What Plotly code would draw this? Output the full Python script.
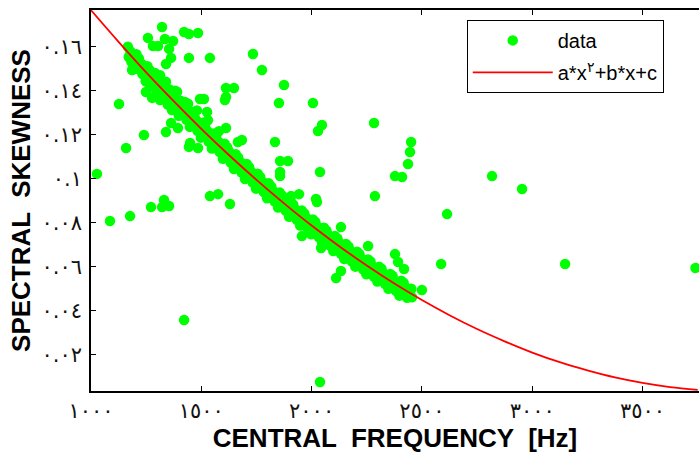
import plotly.graph_objects as go

# ---------------- data ----------------
# dense band of measurements along the fitted curve
band_freq = [
    1167, 1179, 1171, 1183,  1206, 1194, 1202, 1198,  1217, 1229, 1221, 1233,
    1256, 1244, 1252, 1248,  1267, 1279, 1271, 1283,  1306, 1294, 1302, 1298,
    1317, 1329, 1321, 1333,  1356, 1344, 1352, 1348,  1367, 1379, 1371, 1383,
    1406, 1394, 1402, 1398,  1417, 1429, 1421, 1433,  1456, 1444, 1452, 1448,
    1467, 1479, 1471, 1483,  1506, 1494, 1502, 1498,  1517, 1529, 1521, 1533,
    1556, 1544, 1552, 1548,  1567, 1579, 1571, 1583,  1606, 1594, 1602, 1598,
    1617, 1629, 1621, 1633,  1656, 1644, 1652, 1648,  1667, 1679, 1671, 1683,
    1706, 1694, 1702, 1698,  1717, 1729, 1721, 1733,  1756, 1744, 1752, 1748,
    1767, 1779, 1771, 1783,  1806, 1794, 1802, 1798,  1817, 1829, 1821, 1833,
    1856, 1844, 1852, 1848,  1867, 1879, 1871, 1883,  1906, 1894, 1902, 1898,
    1917, 1929, 1921, 1933,  1956, 1944, 1952, 1948,  1967, 1979, 1971, 1983,
    2006, 1994, 2002, 1998,  2017, 2029, 2021, 2033,  2056, 2044, 2052, 2048,
    2067, 2079, 2071, 2083,  2106, 2094, 2102, 2098,  2117, 2129, 2121, 2133,
    2156, 2144, 2152, 2148,  2167, 2179, 2171, 2183,  2206, 2194, 2202, 2198,
    2217, 2229, 2221, 2233,  2256, 2244, 2252, 2248,  2267, 2279, 2271, 2283,
    2306, 2294, 2302, 2298,  2317, 2329, 2321, 2333,  2356, 2344, 2352, 2348,
    2367, 2379, 2371, 2383,  2406, 2394, 2402, 2398,  2417, 2429, 2421, 2433,
    2452, 2444, 2455,
    1186, 1245, 1249, 1267, 1277, 1295, 1313, 1367, 1403, 1426, 1471, 1517,
    1562, 1621, 1653, 1290, 1340, 1390, 1440, 1480, 1530, 1580, 1313, 1381,
]
band_skew = [
    0.1600, 0.1578, 0.1553, 0.1531,  0.1566, 0.1543, 0.1518, 0.1498,  0.1546, 0.1522, 0.1498, 0.1476,
    0.1511, 0.1488, 0.1463, 0.1443,  0.1492, 0.1469, 0.1444, 0.1422,  0.1458, 0.1435, 0.1410, 0.1390,
    0.1439, 0.1416, 0.1391, 0.1369,  0.1405, 0.1382, 0.1357, 0.1337,  0.1387, 0.1364, 0.1340, 0.1318,
    0.1354, 0.1331, 0.1306, 0.1286,  0.1336, 0.1313, 0.1288, 0.1267,  0.1303, 0.1280, 0.1255, 0.1235,
    0.1286, 0.1263, 0.1238, 0.1217,  0.1254, 0.1231, 0.1206, 0.1186,  0.1237, 0.1214, 0.1190, 0.1168,
    0.1205, 0.1182, 0.1157, 0.1137,  0.1189, 0.1166, 0.1142, 0.1120,  0.1158, 0.1135, 0.1110, 0.1090,
    0.1142, 0.1119, 0.1095, 0.1073,  0.1111, 0.1088, 0.1063, 0.1043,  0.1096, 0.1073, 0.1049, 0.1027,
    0.1066, 0.1043, 0.1018, 0.0998,  0.1051, 0.1028, 0.1004, 0.0982,  0.1022, 0.0999, 0.0974, 0.0954,
    0.1007, 0.0984, 0.0960, 0.0938,  0.0978, 0.0955, 0.0930, 0.0910,  0.0964, 0.0941, 0.0917, 0.0895,
    0.0936, 0.0913, 0.0888, 0.0868,  0.0922, 0.0899, 0.0875, 0.0853,  0.0894, 0.0871, 0.0846, 0.0826,
    0.0881, 0.0858, 0.0834, 0.0812,  0.0854, 0.0831, 0.0806, 0.0786,  0.0841, 0.0818, 0.0794, 0.0772,
    0.0814, 0.0791, 0.0766, 0.0746,  0.0802, 0.0779, 0.0755, 0.0733,  0.0776, 0.0753, 0.0728, 0.0708,
    0.0764, 0.0741, 0.0717, 0.0695,  0.0738, 0.0715, 0.0690, 0.0670,  0.0727, 0.0704, 0.0680, 0.0658,
    0.0702, 0.0679, 0.0654, 0.0634,  0.0691, 0.0668, 0.0644, 0.0622,  0.0667, 0.0644, 0.0619, 0.0599,
    0.0656, 0.0633, 0.0609, 0.0587,  0.0632, 0.0609, 0.0584, 0.0564,  0.0622, 0.0599, 0.0575, 0.0553,
    0.0599, 0.0576, 0.0551, 0.0531,  0.0589, 0.0566, 0.0542, 0.0520,  0.0566, 0.0543, 0.0518, 0.0498,
    0.0557, 0.0534, 0.0510, 0.0488,  0.0535, 0.0512, 0.0487, 0.0467,  0.0526, 0.0503, 0.0479, 0.0457,
    0.0498, 0.0482, 0.0460,
    0.1494, 0.1471, 0.1394, 0.1421, 0.1367, 0.1403, 0.1357, 0.1312, 0.1289, 0.1348, 0.1275, 0.1230,
    0.1175, 0.1130, 0.1084, 0.1480, 0.1440, 0.1395, 0.1340, 0.1310, 0.1265, 0.1215, 0.1470, 0.1400,
]

# scattered measurements away from the band
outlier_freq = [
    1027, 1159, 1086, 1127, 1240, 1177, 1272, 1322, 1354, 1331,
    1630, 1422, 1322, 1258, 1422, 1444, 1485, 1335, 1372, 1281,
    1304, 1354, 1363, 1340, 1444, 1539, 1612, 1648, 1612, 1607,
    1494, 1512, 1526, 1363, 1394, 1340, 1449, 1444, 1485, 1612,
    1666, 1539, 1576, 1734, 1775, 1875, 1852, 2006, 2047, 2029,
    2283, 2451, 2446, 2437, 2378, 2410, 2287, 2038, 1834, 1684,
    1857, 1893, 1857, 1857, 1943, 1907, 2020, 2818, 2954, 2614,
    2587, 3149, 3740, 2500, 2111, 2133, 2378, 2392, 2419, 2256,
    2133, 2038, 2024, 1956, 2043,
]
outlier_skew = [
    0.1021, 0.1139, 0.0807, 0.1339, 0.1198, 0.0829, 0.0870, 0.0870, 0.0875, 0.0902,
    0.0884, 0.0356, 0.1690, 0.1640, 0.1667, 0.1658, 0.1662, 0.1635, 0.1626, 0.1603,
    0.1603, 0.1590, 0.1549, 0.1521, 0.1549, 0.1549, 0.1412, 0.1412, 0.1371, 0.1357,
    0.1362, 0.1362, 0.1303, 0.1253, 0.1230, 0.1212, 0.1162, 0.1144, 0.1139, 0.1230,
    0.1166, 0.0920, 0.0929, 0.1567, 0.1494, 0.1426, 0.1344, 0.1344, 0.1244, 0.1216,
    0.1253, 0.1166, 0.1121, 0.1066, 0.1011, 0.1007, 0.0920, 0.1030, 0.1166, 0.1175,
    0.1080, 0.1080, 0.1030, 0.1011, 0.0929, 0.0920, 0.0907, 0.1011, 0.0952, 0.0838,
    0.0611, 0.0611, 0.0593, 0.0493, 0.0547, 0.0579, 0.0656, 0.0620, 0.0588, 0.0693,
    0.0779, 0.0074, 0.0893, 0.0738, 0.0684,
]

# fitted quadratic curve
fit_freq = [1000, 1125, 1250, 1375, 1500, 1625, 1750, 1875, 2000, 2125, 2250, 2375,
            2500, 2625, 2750, 2875, 3000, 3125, 3250, 3375, 3500, 3625, 3750]
fit_skew = [0.1766, 0.1622, 0.1483, 0.1352, 0.1226, 0.1107, 0.0994, 0.0887, 0.0786,
            0.0692, 0.0604, 0.0522, 0.0447, 0.0378, 0.0315, 0.0259, 0.0208, 0.0164,
            0.0127, 0.0095, 0.0070, 0.0051, 0.0038]

x_tick_vals = [1000, 1500, 2000, 2500, 3000, 3500]
x_tick_text = ["١٠٠٠", "١٥٠٠", "٢٠٠٠", "٢٥٠٠", "٣٠٠٠", "٣٥٠٠"]
y_tick_vals = [0.02, 0.04, 0.06, 0.08, 0.10, 0.12, 0.14, 0.16]
y_tick_text = ["٠.٠٢", "٠.٠٤", "٠.٠٦", "٠.٠٨", "٠.١", "٠.١٢", "٠.١٤", "٠.١٦"]

assert len(band_freq) == len(band_skew)
assert len(outlier_freq) == len(outlier_skew)

data_freq = band_freq + outlier_freq
data_skew = band_skew + outlier_skew

# ---------------- figure ----------------
fig = go.Figure()
fig.add_trace(go.Scatter(
    x=data_freq, y=data_skew, mode="markers", name="data", legendgroup="a",
    marker=dict(color="#00FF00", size=10.5, line=dict(width=0)),
))
fig.add_trace(go.Scatter(
    x=fit_freq, y=fit_skew, mode="lines", name="a*x<sup>٢</sup>+b*x+c", legendgroup="b",
    line=dict(color="#FF0000", width=1.8, shape="spline"),
))

tick_font = dict(family="DejaVu Sans", size=21, color="#111111")
title_font = dict(family="Liberation Sans", size=26, color="black", weight="bold")

fig.update_layout(
    width=699, height=453,
    margin=dict(l=91, r=0, t=10, b=62),
    plot_bgcolor="white", paper_bgcolor="white",
    showlegend=True,
    legend=dict(
        x=0.618, y=0.974, xanchor="left", yanchor="top",
        bgcolor="white", bordercolor="black", borderwidth=1,
        font=dict(family="Liberation Sans", size=20, color="black"),
        itemwidth=80, tracegroupgap=3,
    ),
    xaxis=dict(
        range=[1000, 3756], tickvals=x_tick_vals, ticktext=x_tick_text,
        ticks="inside", ticklen=5, tickcolor="black", tickwidth=1,
        showline=True, linecolor="black", linewidth=1.5, mirror="ticks",
        showgrid=False, zeroline=False, tickfont=tick_font,
        title=dict(text="CENTRAL  FREQUENCY  [Hz]", font=title_font, standoff=6),
    ),
    yaxis=dict(
        range=[0.0033, 0.1767], tickvals=y_tick_vals, ticktext=y_tick_text,
        ticks="inside", ticklen=5, tickcolor="black", tickwidth=1,
        showline=True, linecolor="black", linewidth=1.5, mirror=False,
        showgrid=False, zeroline=False, tickfont=tick_font, ticklabelstandoff=3,
        title=dict(text="SPECTRAL  SKEWNESS", font=title_font, standoff=3),
    ),
)

fig.write_html("out.html")
